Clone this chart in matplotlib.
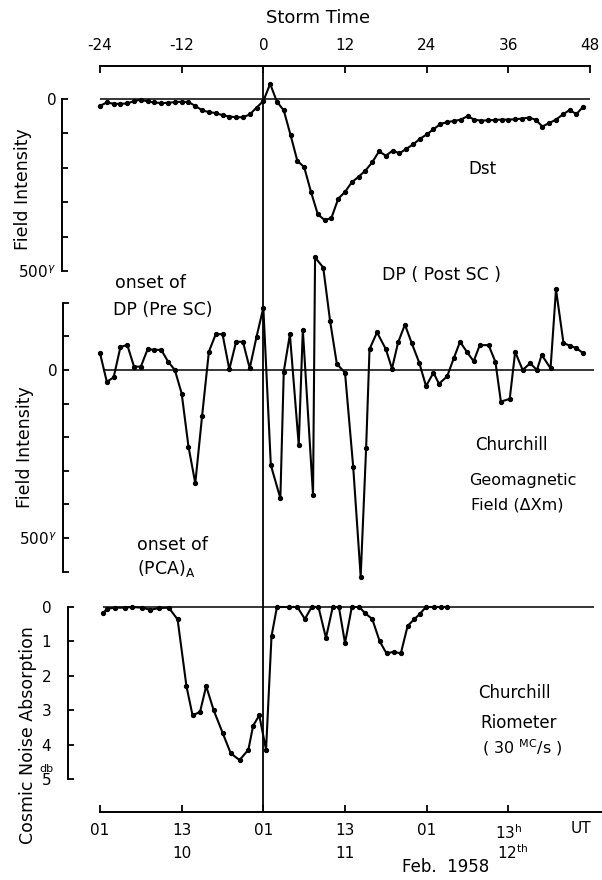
import matplotlib.pyplot as plt

W, H = 602, 880
PX_H = 6.806   # pixels per storm-time hour
X_M24 = 100    # pixel column of storm time -24

# Dst, hourly values, storm time -24 ... 47 (gamma)
dst_t = list(range(-24, 48))
dst = [-20, -10, -14, -14, -13, -6, -2, -7, -10, -12, -11, -9,
       -8, -9, -20, -33, -38, -41, -47, -51, -53, -53, -45, -25,
       -6, 44, -8, -33, -105, -180, -198, -270, -335, -352, -346, -290,
       -270, -242, -226, -208, -184, -152, -165, -150, -158, -145, -132, -116,
       -103, -88, -73, -67, -64, -60, -50, -60, -63, -62, -61, -60,
       -60, -59, -57, -54, -60, -80, -70, -60, -45, -32, -44, -22]

# Churchill geomagnetic field, delta Xm (gamma)
dp_t = [-24, -23, -22, -21, -20, -19, -18, -17, -16, -15, -14, -13,
        -12, -11, -10, -9, -8, -7, -6, -5, -4, -3, -2, -1, 0,
        1.1, 2.5, 3.0, 3.9, 5.2, 5.8, 7.3, 7.6, 8.8, 9.8, 10.8, 12.0,
        13.2, 14.3, 15.1, 15.6, 16.7, 18.0, 18.9, 19.8, 20.8, 21.8, 22.9,
        23.9, 25.0, 25.8, 27.0, 28.0, 28.9, 29.9, 30.9, 31.8, 33.1, 34.1,
        34.9, 36.2, 37.0, 38.1, 39.2, 40.2, 40.9, 42.2, 43.0, 44.1, 45.1,
        46.0, 47.0]
dp = [50, -35, -22, 68, 75, 10, 10, 62, 60, 60, 25, 0,
      -70, -228, -337, -137, 55, 106, 107, 2, 84, 84, 5, 99, 185,
      -283, -382, -5, 106, -223, 120, -372, 335, 305, 147, 18, -8,
      -288, -615, -233, 62, 112, 62, 4, 82, 135, 80, 22,
      -48, -8, -41, -19, 36, 84, 54, 26, 74, 74, 24,
      -94, -86, 54, 0, 20, 0, 45, 5, 240, 80, 72,
      65, 50]

# Churchill riometer, cosmic noise absorption (db)
rio_t = [-23.6, -22.9, -21.8, -20.4, -19.3, -17.8, -16.6, -15.3, -13.9,
         -12.6, -11.3, -10.4, -9.3, -8.4, -7.3, -6.0, -4.8, -3.5, -2.2,
         -1.5, -0.6, 0.4, 1.2, 2.0,
         3.8, 5.0, 6.1, 7.1, 8.1, 9.2, 10.2, 11.1, 12.0, 13.0, 14.1, 14.9,
         16.0, 17.1, 18.1, 19.2, 20.2, 21.2, 22.2, 23.0, 23.9, 25.1, 26.1, 27.0]
rio = [0.18, 0.05, 0.02, 0.02, 0.0, 0.02, 0.08, 0.03, 0.02,
       0.36, 2.3, 3.15, 3.05, 2.3, 3.0, 3.65, 4.25, 4.45, 4.15,
       3.45, 3.15, 4.15, 0.85, 0.0,
       0.0, 0.0, 0.35, 0.0, 0.0, 0.9, 0.0, 0.0, 1.05, 0.0, 0.0, 0.17,
       0.35, 1.0, 1.35, 1.3, 1.35, 0.55, 0.35, 0.2, 0.0, 0.0, 0.0, 0.0]

storm_ticks = [-24, -12, 0, 12, 24, 36, 48]
storm_labels = ["-24", "-12", "0", "12", "24", "36", "48"]
ut_ticks = [-24, -12, 0, 12, 24, 36]
ut_labels = ["01", "13", "01", "13", "01", r"13$^\mathregular{h}$"]
day_ticks = [-12, 12, 36.6]
day_labels = ["10", "11", r"12$^\mathregular{th}$"]


def box(left, top, right, bottom):
    return [left / W, 1 - bottom / H, (right - left) / W, (bottom - top) / H]


def t_at(px):
    return -24 + (px - X_M24) / PX_H


def ftext(x, y, s, **kw):
    kw.setdefault("ha", "center")
    kw.setdefault("va", "center")
    kw.setdefault("fontsize", 12)
    fig.text(x / W, 1 - y / H, s, **kw)


fig = plt.figure(figsize=(W / 100, H / 100), dpi=100)

# frame: storm time on top, UT at the bottom, SC line through everything
ax = fig.add_axes(box(X_M24, 66, W, 812))
ax.set_xlim(t_at(X_M24), t_at(W))
ax.set_ylim(0, 1)
ax.set_yticks([])
for s in ("left", "right", "top"):
    ax.spines[s].set_visible(False)
ax.spines["bottom"].set_linewidth(1.4)
ax.set_xticks(ut_ticks)
ax.set_xticklabels(ut_labels, fontsize=11)
ax.tick_params(axis="x", direction="in", length=5, width=1.3, pad=8)
ax.axvline(0, color="black", lw=1.3)

sec = ax.secondary_xaxis("top")
sec.set_xticks(storm_ticks)
sec.set_xticklabels(storm_labels, fontsize=11)
sec.tick_params(axis="x", direction="in", length=5, width=1.3, pad=9)
sec.spines["top"].set_bounds(-24, 48)
sec.spines["top"].set_linewidth(1.4)

for t, lab in zip(day_ticks, day_labels):
    ax.annotate(lab, (t, H - 853), xycoords=("data", "figure pixels"),
                ha="center", va="center", fontsize=11)


def panel(left, top, bottom, zero_px, scale, invert=False):
    a = fig.add_axes(box(left, top, W, bottom))
    a.set_xlim(t_at(left), t_at(W))
    lo = -(bottom - zero_px) / scale
    hi = (zero_px - top) / scale
    if invert:
        a.set_ylim(-lo, -hi)
    else:
        a.set_ylim(lo, hi)
    a.patch.set_visible(False)
    for s in ("top", "right", "bottom"):
        a.spines[s].set_visible(False)
    a.spines["left"].set_linewidth(1.4)
    a.set_xticks([])
    a.tick_params(axis="y", direction="in", length=4, width=1.3, labelsize=11)
    return a


line_kw = dict(color="black", lw=1.5, marker="o", ms=2.8)

# Dst
a1 = panel(62, 70, 285, 99, 0.344)
a1.hlines(0, -24, 48, color="black", lw=1.1)
a1.plot(dst_t, dst, **line_kw)
a1.spines["left"].set_bounds(-500, 0)
a1.set_yticks([0, -100, -200, -300, -400, -500])
a1.set_yticklabels(["0", "", "", "", "", r"500$^\gamma$"])
a1.tick_params(axis="y", pad=4)

# Churchill delta Xm
a2 = panel(63, 245, 590, 370, 0.336)
a2.hlines(0, -23.5, 48.6, color="black", lw=1.1)
a2.plot(dp_t, dp, **line_kw)
a2.spines["left"].set_bounds(-600, 200)
a2.set_yticks([200, 100, 0, -100, -200, -300, -400, -500, -600])
a2.set_yticklabels(["", "", "0", "", "", "", "", r"500$^\gamma$", ""])
a2.tick_params(axis="y", pad=4)

# Churchill riometer
a3 = panel(68, 595, 800, 607, 34.4, invert=True)
a3.hlines(0, -23.5, 48.6, color="black", lw=1.1)
a3.plot(rio_t, rio, **line_kw)
a3.spines["left"].set_bounds(0, 5)
a3.set_yticks([0, 1, 2, 3, 4, 5])
a3.set_yticklabels(["0", "1", "2", "3", "4", "5"])
a3.tick_params(axis="y", pad=12)

# texts
ftext(318, 18, "Storm Time", fontsize=13)
ftext(23, 189, "Field Intensity", rotation=90, fontsize=12.5)
ftext(25, 447, "Field Intensity", rotation=90, fontsize=12.5)
ftext(28, 735, "Cosmic Noise Absorption", rotation=90, fontsize=12.5)
ftext(46, 769, "db", fontsize=8)
ftext(482, 169, "Dst")
ftext(115, 283, "onset of", ha="left", fontsize=12.5)
ftext(113, 310, "DP (Pre SC)", ha="left", fontsize=12.5)
ftext(382, 275, "DP ( Post SC )", ha="left", fontsize=12.5)
ftext(475, 445, "Churchill", ha="left")
ftext(469, 480, "Geomagnetic", ha="left", fontsize=11.5)
ftext(471, 505, "Field (ΔXm)", ha="left", fontsize=11.5)
ftext(137, 545, "onset of", ha="left", fontsize=12.5)
ftext(137, 568, r"(PCA)$_\mathregular{A}$", ha="left", fontsize=12.5)
ftext(478, 693, "Churchill", ha="left")
ftext(480, 723, "Riometer", ha="left")
ftext(482, 748, r"( 30 $^\mathregular{MC}$/s )", ha="left", fontsize=11.5)
ftext(581, 828, "UT", fontsize=11)
ftext(446, 867, "Feb.  1958")

fig.savefig("out.png", dpi=100)
